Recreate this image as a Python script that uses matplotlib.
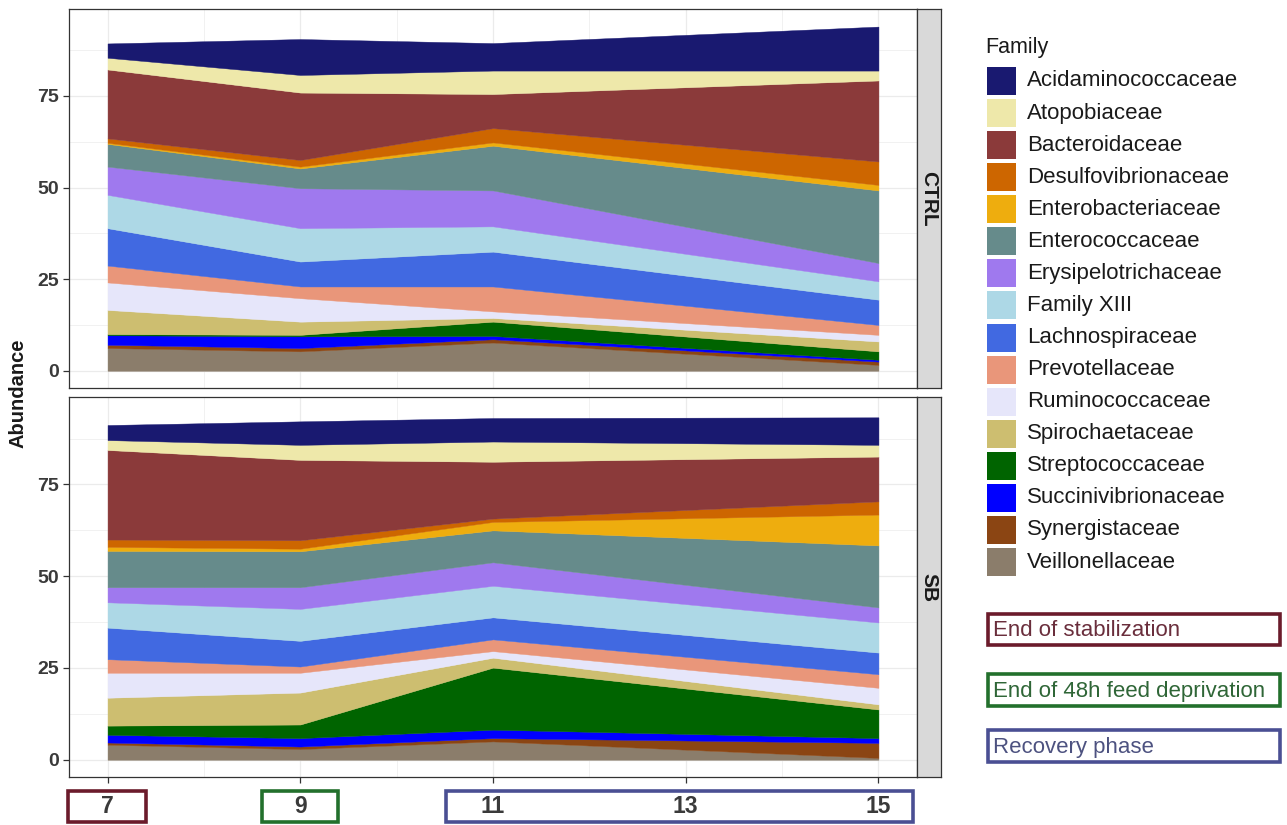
import matplotlib
matplotlib.use("Agg")
import matplotlib.pyplot as plt
from matplotlib.patches import Rectangle
from matplotlib.ticker import MultipleLocator

plt.rcParams['font.family'] = ['Liberation Sans', 'DejaVu Sans']

# ---------------- data ----------------
days = [7, 9, 11, 15]
families = ["Acidaminococcaceae", "Atopobiaceae", "Bacteroidaceae", "Desulfovibrionaceae",
            "Enterobacteriaceae", "Enterococcaceae", "Erysipelotrichaceae", "Family XIII",
            "Lachnospiraceae", "Prevotellaceae", "Ruminococcaceae", "Spirochaetaceae",
            "Streptococcaceae", "Succinivibrionaceae", "Synergistaceae", "Veillonellaceae"]
colors = ["#191970", "#EEE8AA", "#8B3A3A", "#CD6600", "#EEAD0E", "#668B8B", "#9F79EE",
          "#ADD8E6", "#4169E1", "#E9967A", "#E6E6FA", "#CDBE70", "#006400", "#0000FF",
          "#8B4513", "#8B7D6B"]

# abundance per family at days 7, 9, 11, 15
ctrl = {
    "Acidaminococcaceae":  [3.9, 9.8, 7.5, 12.0],
    "Atopobiaceae":        [3.2, 4.8, 6.4, 2.7],
    "Bacteroidaceae":      [18.8, 18.4, 9.3, 22.1],
    "Desulfovibrionaceae": [1.2, 1.8, 3.9, 6.4],
    "Enterobacteriaceae":  [0.3, 0.5, 0.9, 1.5],
    "Enterococcaceae":     [6.2, 5.4, 12.2, 19.8],
    "Erysipelotrichaceae": [7.7, 10.9, 9.8, 5.0],
    "Family XIII":         [9.1, 9.1, 6.9, 5.0],
    "Lachnospiraceae":     [10.2, 6.8, 9.5, 6.9],
    "Prevotellaceae":      [4.6, 3.2, 6.8, 2.7],
    "Ruminococcaceae":     [7.5, 6.4, 1.8, 1.8],
    "Spirochaetaceae":     [6.6, 3.6, 1.0, 2.7],
    "Streptococcaceae":    [0.3, 0.4, 3.9, 2.3],
    "Succinivibrionaceae": [2.6, 3.2, 0.9, 0.5],
    "Synergistaceae":      [0.9, 0.9, 0.9, 0.9],
    "Veillonellaceae":     [6.2, 5.3, 7.7, 1.6],
}
sb = {
    "Acidaminococcaceae":  [4.1, 6.4, 6.4, 7.5],
    "Atopobiaceae":        [2.7, 4.1, 5.5, 3.2],
    "Bacteroidaceae":      [24.4, 21.9, 15.5, 12.2],
    "Desulfovibrionaceae": [2.0, 2.3, 0.9, 3.6],
    "Enterobacteriaceae":  [1.1, 0.7, 2.3, 8.4],
    "Enterococcaceae":     [9.9, 9.8, 8.7, 16.9],
    "Erysipelotrichaceae": [4.1, 5.9, 6.4, 4.1],
    "Family XIII":         [6.9, 8.7, 8.6, 8.2],
    "Lachnospiraceae":     [8.6, 7.0, 6.0, 5.9],
    "Prevotellaceae":      [3.7, 1.7, 3.2, 3.7],
    "Ruminococcaceae":     [6.8, 5.4, 1.8, 4.5],
    "Spirochaetaceae":     [7.6, 8.7, 2.7, 1.4],
    "Streptococcaceae":    [2.5, 3.7, 16.9, 7.8],
    "Succinivibrionaceae": [2.1, 2.3, 2.3, 1.3],
    "Synergistaceae":      [0.6, 0.7, 0.9, 4.1],
    "Veillonellaceae":     [4.1, 2.9, 5.0, 0.5],
}
panels = [("CTRL", ctrl), ("SB", sb)]
y_ticks = [0, 25, 50, 75]
x_ticks = [7, 9, 11, 13, 15]

phase_labels = ["End of stabilization", "End of 48h feed deprivation", "Recovery phase"]
phase_edge = ["#6B1B2B", "#23702C", "#4A4F93"]
phase_text = ["#6A2E3C", "#2F6637", "#4D5280"]

# ---------------- layout ----------------
W, H = 1287, 825
fig = plt.figure(figsize=(W / 100, H / 100), dpi=100)


def frect(x0, y0, x1, y1):
    return [x0 / W, 1 - y1 / H, (x1 - x0) / W, (y1 - y0) / H]


def fx(x):
    return x / W


def fy(y):
    return 1 - y / H


panel_px = [(69, 9, 917, 388), (69, 397.5, 917, 777)]
axes = []
for i, ((name, data), (x0, y0, x1, y1)) in enumerate(zip(panels, panel_px)):
    ax = fig.add_axes(frect(x0, y0, x1, y1))
    axes.append(ax)
    order = families[::-1]
    ax.stackplot(days, *[data[f] for f in order], colors=colors[::-1],
                 linewidth=0.3, edgecolor='face')
    ax.set_xlim(6.6, 15.4)
    ax.set_ylim(-4.7, 98.7)
    ax.xaxis.set_major_locator(MultipleLocator(2))
    ax.xaxis.set_minor_locator(MultipleLocator(1))
    ax.set_xticks(x_ticks)
    ax.set_yticks(y_ticks)
    ax.yaxis.set_minor_locator(MultipleLocator(12.5))
    ax.set_axisbelow(True)
    ax.grid(which='major', color='#EBEBEB', lw=0.9)
    ax.grid(which='minor', color='#EBEBEB', lw=0.5)
    for sp in ax.spines.values():
        sp.set_color('#333333')
        sp.set_linewidth(0.9)
    ax.tick_params(axis='y', which='major', length=4, color='#333333', width=0.9,
                   labelsize=14, labelcolor='#3A3A3A', pad=3)
    ax.tick_params(which='minor', length=0)
    for lab in ax.get_yticklabels():
        lab.set_fontweight('bold')
    if i == 0:
        ax.tick_params(axis='x', which='major', length=0, labelbottom=False)
    else:
        ax.tick_params(axis='x', which='major', length=4, color='#333333', width=0.9,
                       labelsize=16.5, labelcolor='#3A3A3A', pad=9)
        for lab in ax.get_xticklabels():
            lab.set_fontweight('bold')
    # facet strip
    sax = fig.add_axes(frect(917, y0, 941, y1))
    sax.set_facecolor('#D9D9D9')
    sax.set_xticks([])
    sax.set_yticks([])
    for sp in sax.spines.values():
        sp.set_color('#333333')
        sp.set_linewidth(0.9)
    sax.text(0.5, 0.5, name, rotation=-90, ha='center', va='center', fontsize=15,
             fontweight='bold', color='#1A1A1A', transform=sax.transAxes)

fig.text(fx(18), fy(393), "Abundance", rotation=90, ha='center', va='center',
         fontsize=14.5, fontweight='bold', color='#1A1A1A')

# ---------------- legend ----------------
fig.text(fx(985), fy(47), "Family", ha='left', va='center', fontsize=15.5, color='#1A1A1A')
for k, (fam, col) in enumerate(zip(families, colors)):
    yc = 81 + k * 32.07
    fig.patches.append(Rectangle((fx(987), fy(yc + 14)), 29 / W, 28 / H, transform=fig.transFigure,
                                 facecolor=col, edgecolor='none'))
    fig.text(fx(1027), fy(yc), fam, ha='left', va='center', fontsize=16, color='#1A1A1A')

# ---------------- phase boxes (right) ----------------
box_y = [(614, 645), (674, 706), (730, 762)]
for lab, ec, tc, (ya, yb) in zip(phase_labels, phase_edge, phase_text, box_y):
    fig.patches.append(Rectangle((fx(988), fy(yb)), (1280 - 988) / W, (yb - ya) / H,
                                 transform=fig.transFigure, facecolor='none', edgecolor=ec, lw=2.6))
    fig.text(fx(993), fy((ya + yb) / 2 + 1), lab, ha='left', va='center', fontsize=16, color=tc)

# ---------------- phase boxes (x axis) ----------------
xbox = [(68, 146), (262, 338), (446, 913)]
for ec, (xa, xb) in zip(phase_edge, xbox):
    fig.patches.append(Rectangle((fx(xa), fy(822)), (xb - xa) / W, (822 - 791) / H,
                                 transform=fig.transFigure, facecolor='none', edgecolor=ec, lw=2.6))

fig.savefig("out.png", dpi=100)
